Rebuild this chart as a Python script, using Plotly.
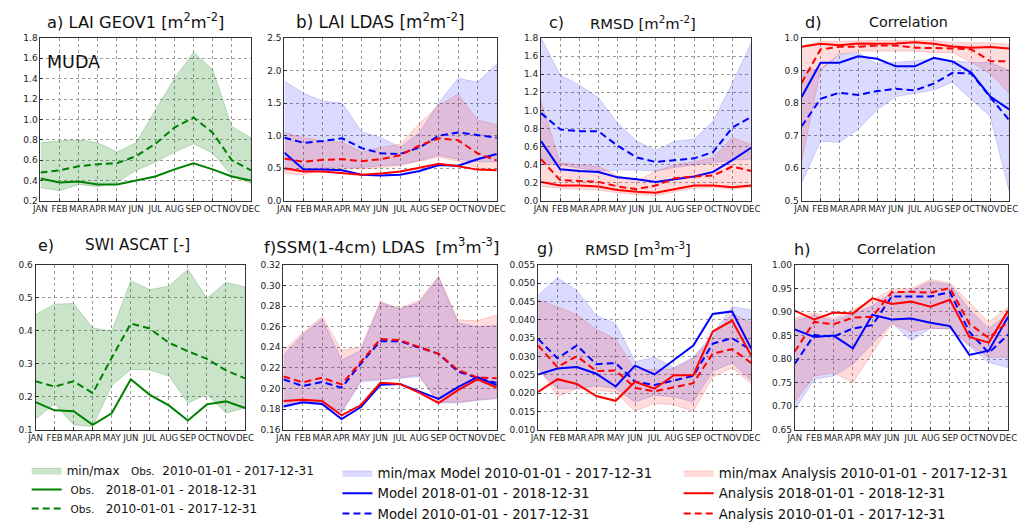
import plotly.graph_objects as go

months = ["JAN", "FEB", "MAR", "APR", "MAY", "JUN", "JUL", "AUG", "SEP", "OCT", "NOV", "DEC"]

# a) LAI GEOV1 (Obs.)
a_obs_2018 = [0.42, 0.38, 0.39, 0.36, 0.36, 0.40, 0.44, 0.51, 0.57, 0.51, 0.44, 0.40]
a_obs_clim = [0.48, 0.50, 0.54, 0.56, 0.57, 0.64, 0.76, 0.92, 1.02, 0.87, 0.60, 0.50]
a_obs_min = [0.33, 0.30, 0.36, 0.34, 0.38, 0.50, 0.58, 0.68, 0.76, 0.67, 0.45, 0.37]
a_obs_max = [0.77, 0.79, 0.80, 0.77, 0.68, 0.77, 1.09, 1.40, 1.66, 1.49, 0.93, 0.82]

# b) LAI LDAS
b_mod_2018 = [0.74, 0.48, 0.48, 0.47, 0.40, 0.39, 0.40, 0.46, 0.55, 0.54, 0.64, 0.72]
b_mod_clim = [0.97, 0.89, 0.92, 0.96, 0.81, 0.73, 0.72, 0.82, 1.00, 1.05, 1.01, 0.97]
b_mod_min = [0.47, 0.49, 0.51, 0.52, 0.51, 0.54, 0.56, 0.62, 0.70, 0.64, 0.60, 0.60]
b_mod_max = [1.84, 1.65, 1.53, 1.50, 1.06, 0.97, 0.82, 1.05, 1.51, 1.88, 1.82, 2.10]
b_ana_2018 = [0.50, 0.45, 0.45, 0.43, 0.40, 0.42, 0.45, 0.51, 0.57, 0.53, 0.48, 0.47]
b_ana_clim = [0.65, 0.60, 0.63, 0.64, 0.61, 0.64, 0.70, 0.85, 0.96, 0.93, 0.73, 0.62]
b_ana_min = [0.42, 0.40, 0.49, 0.49, 0.49, 0.51, 0.54, 0.61, 0.67, 0.61, 0.51, 0.47]
b_ana_max = [1.05, 0.97, 0.92, 0.90, 0.75, 0.82, 0.87, 1.19, 1.46, 1.64, 1.24, 1.17]

# c) LAI RMSD
c_mod_2018 = [0.66, 0.35, 0.33, 0.32, 0.26, 0.24, 0.21, 0.24, 0.27, 0.32, 0.45, 0.59]
c_mod_clim = [0.97, 0.79, 0.77, 0.77, 0.61, 0.48, 0.43, 0.45, 0.47, 0.54, 0.81, 0.93]
c_mod_min = [0.40, 0.40, 0.36, 0.33, 0.34, 0.34, 0.33, 0.37, 0.40, 0.42, 0.45, 0.46]
c_mod_max = [1.80, 1.39, 1.28, 1.14, 0.86, 0.66, 0.56, 0.66, 0.68, 0.88, 1.30, 1.75]
c_ana_2018 = [0.21, 0.17, 0.17, 0.16, 0.12, 0.10, 0.09, 0.13, 0.17, 0.17, 0.15, 0.17]
c_ana_clim = [0.46, 0.23, 0.22, 0.21, 0.16, 0.13, 0.17, 0.25, 0.27, 0.28, 0.38, 0.33]
c_ana_min = [0.16, 0.14, 0.13, 0.12, 0.09, 0.07, 0.06, 0.10, 0.14, 0.15, 0.13, 0.15]
c_ana_max = [1.10, 0.42, 0.40, 0.38, 0.28, 0.22, 0.33, 0.40, 0.43, 0.48, 0.70, 0.62]

# d) LAI correlation
d_mod_2018 = [0.819, 0.924, 0.924, 0.944, 0.936, 0.913, 0.913, 0.939, 0.928, 0.893, 0.820, 0.781]
d_mod_clim = [0.729, 0.813, 0.832, 0.825, 0.837, 0.844, 0.839, 0.860, 0.893, 0.891, 0.818, 0.748]
d_mod_min = [0.555, 0.683, 0.680, 0.720, 0.780, 0.820, 0.830, 0.840, 0.865, 0.810, 0.760, 0.530]
d_mod_max = [0.900, 0.905, 0.950, 0.955, 0.920, 0.925, 0.930, 0.935, 0.930, 0.925, 0.925, 0.900]
d_ana_2018 = [0.973, 0.982, 0.978, 0.983, 0.982, 0.983, 0.987, 0.982, 0.974, 0.970, 0.972, 0.968]
d_ana_clim = [0.862, 0.965, 0.973, 0.973, 0.977, 0.977, 0.970, 0.970, 0.968, 0.965, 0.929, 0.928]
d_ana_min = [0.620, 0.900, 0.950, 0.960, 0.960, 0.960, 0.960, 0.955, 0.955, 0.925, 0.890, 0.830]
d_ana_max = [0.975, 0.990, 0.990, 0.992, 0.992, 0.992, 0.993, 0.992, 0.985, 0.985, 0.985, 0.980]

# e) SWI ASCAT (Obs.)
e_obs_2018 = [0.184, 0.159, 0.156, 0.115, 0.150, 0.253, 0.206, 0.174, 0.128, 0.177, 0.186, 0.166]
e_obs_clim = [0.247, 0.231, 0.247, 0.211, 0.318, 0.422, 0.407, 0.364, 0.338, 0.315, 0.280, 0.256]
e_obs_min = [0.132, 0.179, 0.115, 0.110, 0.234, 0.283, 0.281, 0.263, 0.181, 0.207, 0.151, 0.166]
e_obs_max = [0.449, 0.481, 0.483, 0.409, 0.399, 0.552, 0.525, 0.535, 0.587, 0.499, 0.547, 0.533]

# f) SSM LDAS
f_mod_2018 = [0.1826, 0.1867, 0.1850, 0.1704, 0.1820, 0.2036, 0.2045, 0.1970, 0.1900, 0.2014, 0.2110, 0.2033]
f_mod_clim = [0.2090, 0.2024, 0.2064, 0.2008, 0.2243, 0.2460, 0.2460, 0.2400, 0.2337, 0.2165, 0.2102, 0.2055]
f_mod_min = [0.1815, 0.1860, 0.1840, 0.1765, 0.2065, 0.2080, 0.2100, 0.2115, 0.1860, 0.1860, 0.1885, 0.1900]
f_mod_max = [0.2320, 0.2525, 0.2676, 0.2275, 0.2369, 0.2833, 0.2770, 0.2833, 0.3080, 0.2635, 0.2600, 0.2613]
f_ana_2018 = [0.1880, 0.1890, 0.1880, 0.1740, 0.1840, 0.2055, 0.2045, 0.1960, 0.1860, 0.1985, 0.2090, 0.2010]
f_ana_clim = [0.2118, 0.2060, 0.2105, 0.2040, 0.2260, 0.2480, 0.2470, 0.2400, 0.2337, 0.2180, 0.2108, 0.2100]
f_ana_min = [0.1830, 0.1880, 0.1860, 0.1780, 0.2080, 0.2090, 0.2110, 0.2130, 0.1870, 0.1870, 0.1890, 0.1910]
f_ana_max = [0.2369, 0.2540, 0.2700, 0.2370, 0.2400, 0.2845, 0.2776, 0.2855, 0.3090, 0.2667, 0.2657, 0.2714]

# g) SSM RMSD
g_mod_2018 = [0.0251, 0.0267, 0.0271, 0.0253, 0.0218, 0.0275, 0.0251, 0.0291, 0.0330, 0.0416, 0.0423, 0.0320]
g_mod_clim = [0.0348, 0.0295, 0.0330, 0.0279, 0.0282, 0.0231, 0.0222, 0.0234, 0.0247, 0.0335, 0.0350, 0.0317]
g_mod_min = [0.0264, 0.0212, 0.0212, 0.0220, 0.0212, 0.0176, 0.0194, 0.0190, 0.0176, 0.0260, 0.0282, 0.0234]
g_mod_max = [0.0467, 0.0515, 0.0480, 0.0412, 0.0390, 0.0286, 0.0298, 0.0270, 0.0298, 0.0361, 0.0436, 0.0427]
g_ana_2018 = [0.0203, 0.0238, 0.0225, 0.0192, 0.0179, 0.0231, 0.0212, 0.0249, 0.0249, 0.0368, 0.0398, 0.0301]
g_ana_clim = [0.0330, 0.0271, 0.0301, 0.0260, 0.0262, 0.0214, 0.0205, 0.0216, 0.0227, 0.0308, 0.0320, 0.0282]
g_ana_min = [0.0273, 0.0190, 0.0212, 0.0207, 0.0203, 0.0150, 0.0172, 0.0168, 0.0150, 0.0244, 0.0269, 0.0225]
g_ana_max = [0.0455, 0.0436, 0.0414, 0.0374, 0.0348, 0.0264, 0.0264, 0.0266, 0.0295, 0.0352, 0.0418, 0.0392]

# h) SSM correlation
h_mod_2018 = [0.863, 0.847, 0.850, 0.823, 0.894, 0.884, 0.886, 0.877, 0.870, 0.809, 0.818, 0.890]
h_mod_clim = [0.790, 0.851, 0.848, 0.865, 0.872, 0.933, 0.933, 0.933, 0.942, 0.858, 0.813, 0.852]
h_mod_min = [0.692, 0.757, 0.764, 0.789, 0.834, 0.877, 0.839, 0.865, 0.865, 0.827, 0.793, 0.782]
h_mod_max = [0.882, 0.893, 0.882, 0.896, 0.913, 0.941, 0.945, 0.965, 0.958, 0.906, 0.865, 0.896]
h_ana_2018 = [0.903, 0.884, 0.899, 0.897, 0.929, 0.917, 0.922, 0.911, 0.926, 0.847, 0.835, 0.903]
h_ana_clim = [0.816, 0.879, 0.874, 0.888, 0.890, 0.942, 0.943, 0.941, 0.951, 0.875, 0.845, 0.879]
h_ana_min = [0.709, 0.764, 0.771, 0.750, 0.813, 0.875, 0.858, 0.866, 0.863, 0.830, 0.804, 0.804]
h_ana_max = [0.887, 0.899, 0.886, 0.906, 0.925, 0.948, 0.950, 0.969, 0.962, 0.920, 0.879, 0.910]

W, H = 1027, 529
FONT = "DejaVu Sans"

GREEN, BLUE, RED = "#008000", "#0000ff", "#ff0000"
FILL = {"obs": "rgba(0,128,0,0.21)", "mod": "rgba(0,0,255,0.14)", "ana": "rgba(255,0,0,0.14)"}
EDGE = {"obs": "rgba(0,100,0,0.25)", "mod": "rgba(0,0,200,0.2)", "ana": "rgba(220,0,0,0.2)"}
COLOR = {"obs": GREEN, "mod": BLUE, "ana": RED}
LEGEND = {"obs": "legend", "mod": "legend2", "ana": "legend3"}
SMALL = "<span style='font-size:10.5px'>Obs.</span>"
NAMES = {
    "obs": ["min/max   " + SMALL + "  2010-01-01 - 2017-12-31",
            " " + SMALL + "   2018-01-01 - 2018-12-31",
            " " + SMALL + "   2010-01-01 - 2017-12-31"],
    "mod": ["min/max Model 2010-01-01 - 2017-12-31",
            "Model 2018-01-01 - 2018-12-31",
            "Model 2010-01-01 - 2017-12-31"],
    "ana": ["min/max Analysis 2010-01-01 - 2017-12-31",
            "Analysis 2018-01-01 - 2018-12-31",
            "Analysis 2010-01-01 - 2017-12-31"],
}

# panel pixel boxes (left, right, top, bottom)
boxes = [
    (33, 247, 34, 202), (281, 497, 34, 202), (542, 756, 34, 202), (807, 1018, 34, 202),
    (28, 241, 268, 438), (280, 497, 268, 438), (539, 756, 268, 438), (800, 1017, 268, 438),
]
panels = [
    dict(series={"obs": (a_obs_2018, a_obs_clim, a_obs_min, a_obs_max)}, yr=(0.2, 1.8), dt=0.2, fmt=".1f"),
    dict(series={"mod": (b_mod_2018, b_mod_clim, b_mod_min, b_mod_max),
                 "ana": (b_ana_2018, b_ana_clim, b_ana_min, b_ana_max)}, yr=(0.0, 2.5), dt=0.5, fmt=".1f"),
    dict(series={"mod": (c_mod_2018, c_mod_clim, c_mod_min, c_mod_max),
                 "ana": (c_ana_2018, c_ana_clim, c_ana_min, c_ana_max)}, yr=(0.0, 1.8), dt=0.2, fmt=".1f"),
    dict(series={"mod": (d_mod_2018, d_mod_clim, d_mod_min, d_mod_max),
                 "ana": (d_ana_2018, d_ana_clim, d_ana_min, d_ana_max)}, yr=(0.5, 1.0), dt=0.1, fmt=".1f"),
    dict(series={"obs": (e_obs_2018, e_obs_clim, e_obs_min, e_obs_max)}, yr=(0.1, 0.6), dt=0.1, fmt=".1f"),
    dict(series={"mod": (f_mod_2018, f_mod_clim, f_mod_min, f_mod_max),
                 "ana": (f_ana_2018, f_ana_clim, f_ana_min, f_ana_max)}, yr=(0.16, 0.32), dt=0.02, fmt=".2f"),
    dict(series={"mod": (g_mod_2018, g_mod_clim, g_mod_min, g_mod_max),
                 "ana": (g_ana_2018, g_ana_clim, g_ana_min, g_ana_max)}, yr=(0.010, 0.055), dt=0.005, fmt=".3f"),
    dict(series={"mod": (h_mod_2018, h_mod_clim, h_mod_min, h_mod_max),
                 "ana": (h_ana_2018, h_ana_clim, h_ana_min, h_ana_max)}, yr=(0.65, 1.00), dt=0.05, fmt=".2f"),
]

xs = list(range(len(months)))
fig = go.Figure()
shown = set()
layout = {}

for i, (p, box) in enumerate(zip(panels, boxes)):
    n = "" if i == 0 else str(i + 1)
    xa, ya = "x" + n, "y" + n
    for key, (s18, clim, lo, hi) in p["series"].items():
        show = key not in shown
        fig.add_trace(go.Scatter(
            x=xs + xs[::-1], y=list(hi) + list(lo)[::-1], xaxis=xa, yaxis=ya,
            mode="lines", fill="toself", fillcolor=FILL[key],
            line=dict(color=EDGE[key], width=0.8), hoverinfo="skip",
            name=NAMES[key][0], legend=LEGEND[key], showlegend=show, legendrank=1))
    for key, (s18, clim, lo, hi) in p["series"].items():
        show = key not in shown
        fig.add_trace(go.Scatter(
            x=xs, y=s18, xaxis=xa, yaxis=ya, mode="lines",
            line=dict(color=COLOR[key], width=2),
            name=NAMES[key][1], legend=LEGEND[key], showlegend=show, legendrank=2))
        fig.add_trace(go.Scatter(
            x=xs, y=clim, xaxis=xa, yaxis=ya, mode="lines",
            line=dict(color=COLOR[key], width=2, dash="7px,4px"),
            name=NAMES[key][2], legend=LEGEND[key], showlegend=show, legendrank=3))
        shown.add(key)

    l, r, t, b = box
    y0, y1 = p["yr"]
    nt = int(round((y1 - y0) / p["dt"]))
    tv = [y0 + k * p["dt"] for k in range(nt + 1)]
    axcommon = dict(showline=True, linecolor="#333333", linewidth=1, mirror=True,
                    showgrid=True, gridcolor="#9a9a9a", griddash="dot", gridwidth=0.8,
                    zeroline=False, ticks="inside", ticklen=3, tickcolor="#333333",
                    tickfont=dict(family=FONT, size=9, color="#222222"))
    layout["xaxis" + n] = dict(axcommon, domain=[l / W, r / W], anchor=ya, range=[0, 11],
                               tickvals=xs, ticktext=months, tickangle=0,
                               tickfont=dict(family=FONT, size=8.6, color="#222222"))
    layout["yaxis" + n] = dict(axcommon, domain=[1 - b / H, 1 - t / H], anchor=xa,
                               range=[y0, y1], tickvals=tv, tickformat=p["fmt"])

fig.update_layout(**layout)

def ann(text, x, y, size=15, anchor="left"):
    fig.add_annotation(text=text, x=x / W, y=1 - y / H, xref="paper", yref="paper",
                       xanchor=anchor, yanchor="middle", showarrow=False,
                       font=dict(family=FONT, size=size, color="#111111"))

ann("a) LAI GEOV1 [m<sup>2</sup>m<sup>-2</sup>]", 38, 17, size=16.3)
ann("b) LAI LDAS [m<sup>2</sup>m<sup>-2</sup>]", 291, 17, size=16.8)
ann("c)", 548, 18, size=16)
ann("RMSD [m<sup>2</sup>m<sup>-2</sup>]", 590, 18, size=14.8)
ann("d)", 808, 18, size=16)
ann("Correlation", 873, 18, size=14.3)
ann("e)", 28, 248, size=16)
ann("SWI ASCAT [-]", 76, 248, size=15.2)
ann("f)SSM(1-4cm) LDAS  [m<sup>3</sup>m<sup>-3</sup>]", 258, 249, size=16.5)
ann("g)", 536, 251, size=16)
ann("RMSD [m<sup>3</sup>m<sup>-3</sup>]", 585, 251, size=14.8)
ann("h)", 797, 252, size=16)
ann("Correlation", 861, 252, size=14.3)
ann("MUDA", 38, 59, size=17.5)

leg = dict(bgcolor="rgba(0,0,0,0)", orientation="v", yanchor="top", xanchor="left",
           tracegroupgap=0, itemwidth=30)
fig.update_layout(
    width=W, height=H, margin=dict(l=0, r=0, t=0, b=0),
    paper_bgcolor="white", plot_bgcolor="white",
    font=dict(family=FONT),
    legend=dict(leg, x=19 / W, y=1 - 465 / H,
                font=dict(family=FONT, size=12, color="#111111")),
    legend2=dict(leg, x=335 / W, y=1 - 467 / H,
                 font=dict(family=FONT, size=13.3, color="#111111")),
    legend3=dict(leg, x=682 / W, y=1 - 467 / H,
                 font=dict(family=FONT, size=13.3, color="#111111")),
)

fig.write_html("out.html")
